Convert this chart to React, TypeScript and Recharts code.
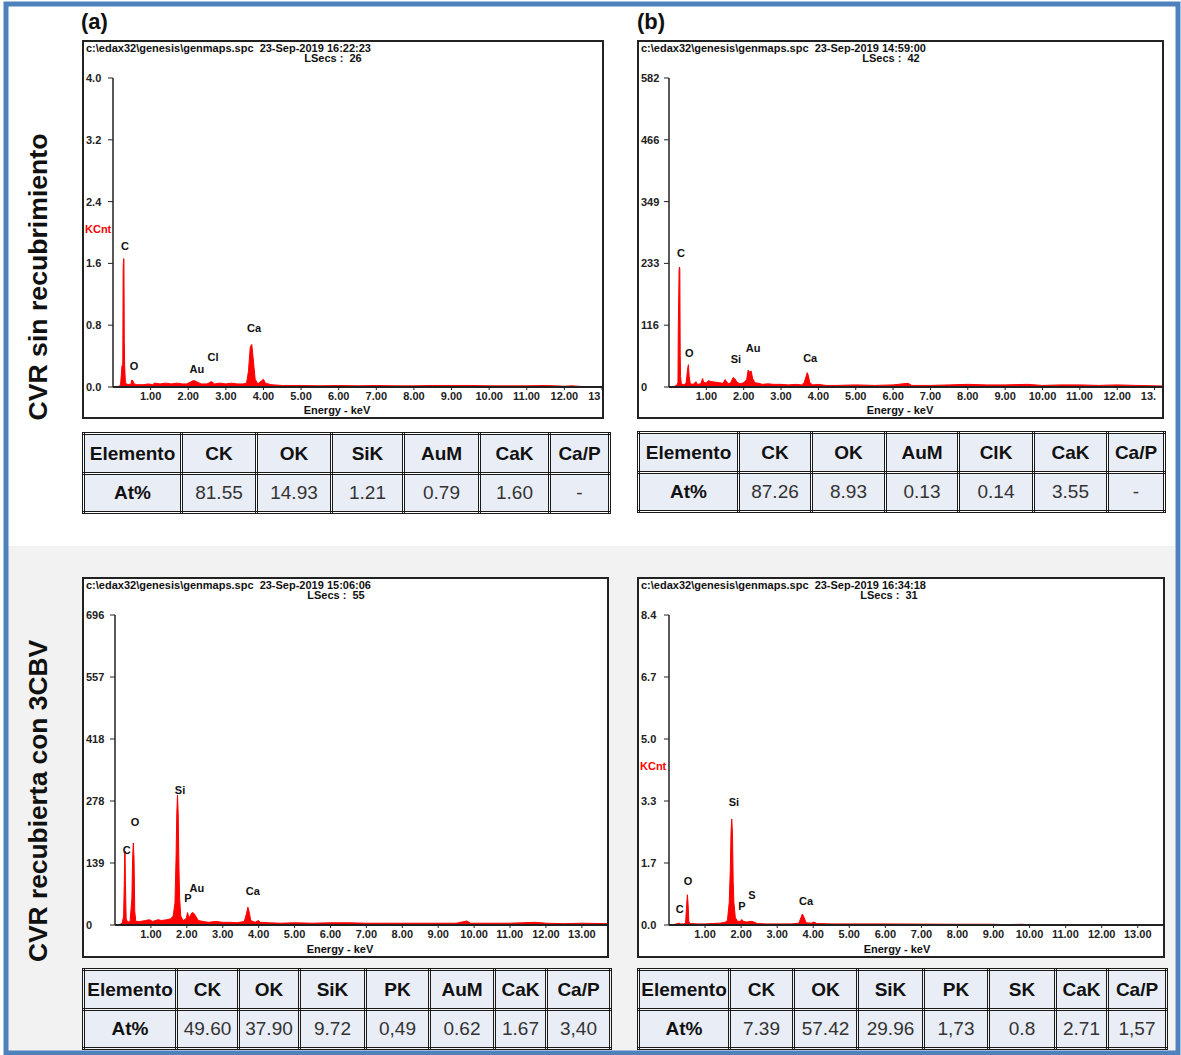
import { AreaChart, Area, XAxis, YAxis, ReferenceDot } from "recharts";

const FONT = '"Liberation Sans", Arial, Helvetica, sans-serif';
const RED = "#ff0000";

// EDS spectra: [energy keV, counts]
const spectrumA: [number, number][] = [
  [0.1, 0], [0.2, 0.02], [0.24, 0.28], [0.26, 0.28], [0.27, 1.52], [0.28, 1.66], [0.29, 1.66],
  [0.3, 0.6], [0.31, 0.28], [0.33, 0.05], [0.4, 0.03], [0.48, 0.04], [0.5, 0.09], [0.53, 0.08],
  [0.56, 0.04], [0.65, 0.03], [0.8, 0.03], [0.95, 0.04], [1.05, 0.03], [1.1, 0.05], [1.25, 0.04],
  [1.4, 0.05], [1.55, 0.04], [1.7, 0.05], [1.85, 0.04], [1.95, 0.04], [2.05, 0.06], [2.12, 0.08],
  [2.18, 0.08], [2.25, 0.06], [2.35, 0.04], [2.5, 0.04], [2.62, 0.07], [2.7, 0.04], [2.85, 0.05],
  [3.0, 0.04], [3.15, 0.05], [3.3, 0.04], [3.45, 0.04], [3.55, 0.05], [3.6, 0.2], [3.65, 0.52],
  [3.69, 0.55], [3.72, 0.4], [3.75, 0.25], [3.78, 0.1], [3.85, 0.04], [3.95, 0.08], [4.0, 0.1],
  [4.05, 0.05], [4.2, 0.03], [4.5, 0.02], [5.0, 0.02], [5.5, 0.015], [6.0, 0.02], [6.5, 0.015],
  [7.0, 0.02], [7.5, 0.015], [8.0, 0.015], [8.5, 0.02], [9.0, 0.02], [9.5, 0.02], [10.0, 0.015],
  [10.5, 0.015], [11.0, 0.015], [11.5, 0.02], [12.0, 0.01], [12.2, 0.015], [12.5, 0.005], [13.0, 0],
];

const spectrumB: [number, number][] = [
  [0.1, 0], [0.2, 3], [0.24, 8], [0.25, 115], [0.27, 220], [0.28, 226], [0.29, 222], [0.3, 60],
  [0.31, 20], [0.33, 6], [0.4, 4], [0.46, 8], [0.5, 35], [0.52, 42], [0.54, 20], [0.57, 6],
  [0.65, 5], [0.72, 10], [0.76, 5], [0.85, 6], [0.9, 16], [0.93, 8], [1.0, 8], [1.05, 12],
  [1.15, 10], [1.25, 9], [1.35, 8], [1.45, 7], [1.5, 14], [1.53, 12], [1.58, 6], [1.65, 8],
  [1.72, 18], [1.76, 16], [1.82, 9], [1.9, 6], [2.0, 8], [2.08, 14], [2.12, 32], [2.16, 28],
  [2.2, 30], [2.24, 16], [2.3, 8], [2.4, 7], [2.5, 5], [2.65, 6], [2.8, 5], [3.0, 5], [3.2, 4],
  [3.4, 5], [3.55, 4], [3.62, 8], [3.67, 20], [3.7, 27], [3.73, 22], [3.77, 8], [3.85, 4],
  [4.0, 5], [4.2, 3], [4.5, 3], [5.0, 4], [5.5, 3], [6.0, 4], [6.4, 7], [6.5, 3], [7.0, 3],
  [7.5, 4], [8.0, 5], [8.5, 4], [9.0, 4], [9.6, 5], [10.0, 3], [10.5, 4], [11.0, 4], [11.5, 3],
  [12.0, 4], [12.5, 3], [13.2, 2],
];

const spectrumC: [number, number][] = [
  [0.1, 0], [0.2, 4], [0.24, 20], [0.26, 100], [0.27, 160], [0.28, 166], [0.29, 100], [0.31, 15],
  [0.35, 6], [0.42, 8], [0.47, 60], [0.49, 150], [0.51, 184], [0.53, 150], [0.55, 30], [0.58, 8],
  [0.7, 8], [0.85, 10], [0.95, 12], [1.05, 8], [1.2, 12], [1.3, 10], [1.45, 12], [1.55, 14],
  [1.62, 20], [1.67, 50], [1.7, 150], [1.72, 250], [1.74, 292], [1.76, 250], [1.78, 130],
  [1.8, 60], [1.83, 20], [1.9, 10], [1.98, 14], [2.02, 28], [2.06, 15], [2.1, 22], [2.15, 28],
  [2.2, 26], [2.26, 18], [2.32, 10], [2.45, 8], [2.6, 6], [2.8, 8], [3.0, 6], [3.2, 6], [3.4, 5],
  [3.6, 8], [3.66, 25], [3.7, 40], [3.74, 28], [3.78, 10], [3.9, 6], [4.0, 10], [4.05, 6],
  [4.3, 5], [4.6, 4], [5.0, 5], [5.5, 4], [6.0, 5], [6.5, 5], [7.0, 4], [7.5, 4], [8.0, 4],
  [8.5, 4], [9.0, 4], [9.5, 4], [9.8, 9], [9.9, 4], [10.5, 4], [11.0, 4], [11.7, 6], [12.0, 4],
  [12.5, 3], [13.0, 4], [13.7, 3],
];

const spectrumD: [number, number][] = [
  [0.1, 0], [0.2, 0.03], [0.28, 0.05], [0.32, 0.03], [0.4, 0.03], [0.46, 0.05], [0.49, 0.55],
  [0.51, 0.82], [0.53, 0.55], [0.55, 0.1], [0.58, 0.04], [0.8, 0.03], [1.0, 0.03], [1.2, 0.04],
  [1.4, 0.05], [1.55, 0.07], [1.62, 0.12], [1.67, 0.6], [1.7, 1.5], [1.72, 2.5], [1.74, 2.87],
  [1.76, 2.5], [1.78, 1.2], [1.8, 0.6], [1.84, 0.2], [1.9, 0.1], [1.98, 0.1], [2.02, 0.15],
  [2.06, 0.1], [2.15, 0.08], [2.3, 0.1], [2.35, 0.08], [2.45, 0.04], [2.7, 0.03], [3.0, 0.03],
  [3.4, 0.03], [3.6, 0.05], [3.66, 0.2], [3.7, 0.3], [3.74, 0.22], [3.8, 0.06], [3.95, 0.05],
  [4.02, 0.08], [4.1, 0.04], [4.5, 0.03], [5.0, 0.03], [6.0, 0.03], [7.0, 0.025], [8.0, 0.02],
  [9.0, 0.02], [9.3, 0.01], [9.8, 0.02], [10.0, 0], [13.7, 0],
];

// peak labels: [element, energy, height where label sits]
const peaksA: [string, number, number][] = [
  ["C", 0.32, 1.83], ["O", 0.56, 0.27], ["Au", 2.23, 0.23], ["Cl", 2.66, 0.39], ["Ca", 3.75, 0.76],
];
const peaksB: [string, number, number][] = [
  ["C", 0.32, 252], ["O", 0.54, 64], ["Si", 1.79, 53], ["Au", 2.25, 73], ["Ca", 3.78, 55],
];
const peaksC: [string, number, number][] = [
  ["C", 0.33, 168], ["O", 0.56, 231], ["Si", 1.81, 303], ["P", 2.03, 61], ["Au", 2.28, 83], ["Ca", 3.84, 76],
];
const peaksD: [string, number, number][] = [
  ["C", 0.3, 0.43], ["O", 0.53, 1.19], ["Si", 1.8, 3.33], ["P", 2.02, 0.51], ["S", 2.3, 0.81], ["Ca", 3.8, 0.65],
];

const yTicksA = [0, 0.8, 1.6, 2.4, 3.2, 4.0];
const yLabelsA = ["0.0", "0.8", "1.6", "2.4", "3.2", "4.0"];
const yTicksB = [0, 116.4, 232.8, 349.2, 465.6, 582];
const yLabelsB = ["0", "116", "233", "349", "466", "582"];
const yTicksC = [0, 139.2, 278.4, 417.6, 556.8, 696];
const yLabelsC = ["0", "139", "278", "418", "557", "696"];
const yTicksD = [0, 1.68, 3.36, 5.04, 6.72, 8.4];
const yLabelsD = ["0.0", "1.7", "3.3", "5.0", "6.7", "8.4"];

const xTicks = [1, 2, 3, 4, 5, 6, 7, 8, 9, 10, 11, 12, 13];
const xLabels = ["1.00", "2.00", "3.00", "4.00", "5.00", "6.00", "7.00", "8.00", "9.00", "10.00", "11.00", "12.00", "13.00"];

const tableHeadA = ["Elemento", "CK", "OK", "SiK", "AuM", "CaK", "Ca/P"];
const tableRowA = ["At%", "81.55", "14.93", "1.21", "0.79", "1.60", "-"];
const tableHeadB = ["Elemento", "CK", "OK", "AuM", "ClK", "CaK", "Ca/P"];
const tableRowB = ["At%", "87.26", "8.93", "0.13", "0.14", "3.55", "-"];
const tableHeadC = ["Elemento", "CK", "OK", "SiK", "PK", "AuM", "CaK", "Ca/P"];
const tableRowC = ["At%", "49.60", "37.90", "9.72", "0,49", "0.62", "1.67", "3,40"];
const tableHeadD = ["Elemento", "CK", "OK", "SiK", "PK", "SK", "CaK", "Ca/P"];
const tableRowD = ["At%", "7.39", "57.42", "29.96", "1,73", "0.8", "2.71", "1,57"];

type Box = { x: number; y: number; w: number; h: number };

const FS = 11;
const charW = (ch: string) => (ch === "." ? 0.278 : 0.556) * FS;
const textW = (s: string) => s.split("").reduce((a, ch) => a + charW(ch), 0);

function YTick(props: any) {
  const { y, payload, ticks, labels } = props;
  const i = ticks.findIndex((t: number) => Math.abs(t - payload.value) < 1e-6);
  return (
    <text x={2} y={y} dy={4} fontSize={FS} fontWeight={700} fill="#222" fontFamily={FONT} textAnchor="start">
      {labels[i] ?? ""}
    </text>
  );
}

// x tick: the label that runs into the right border is cut like in the instrument print-out
function XTick(props: any) {
  const { x, y, payload, maxX } = props;
  let label = xLabels[xTicks.indexOf(payload.value)] ?? "";
  const start = x - textW(label) / 2;
  while (label.length > 1 && start + textW(label) > maxX) label = label.slice(0, -1);
  return (
    <text x={start} y={y} dy={7} fontSize={FS} fontWeight={700} fill="#222" fontFamily={FONT} textAnchor="start">
      {label}
    </text>
  );
}

function Spectrum(props: {
  box: Box;
  axisX: number;
  top: number;
  axisY: number;
  xMax: number;
  yTicks: number[];
  yLabels: string[];
  spectrum: [number, number][];
  peaks: [string, number, number][];
  file: string;
  lsecs: string;
  lsecsX: number;
  energyX: number;
  kcnt?: boolean;
}) {
  const { box, axisX, top, axisY, xMax, yTicks, yLabels, spectrum, peaks } = props;
  const iw = box.w - 4;
  const ih = box.h - 4;
  const yw = axisX - (box.x + 2);
  const mt = top - (box.y + 2);
  const xh = box.y + box.h - 2 - axisY;
  const data = spectrum.map(([e, c]) => ({ e, c }));
  const yMax = yTicks[yTicks.length - 1];
  const txt = { position: "absolute" as const, fontSize: FS, fontWeight: 700, lineHeight: "10px", whiteSpace: "pre" as const, color: "#111" };
  return (
    <div
      style={{
        position: "absolute", left: box.x, top: box.y, width: iw, height: ih,
        border: "2px solid #222", background: "#fff", overflow: "hidden",
      }}
    >
      <AreaChart width={iw} height={ih} data={data} margin={{ top: mt, right: 0, bottom: 0, left: 0 }}>
        <XAxis
          dataKey="e"
          type="number"
          domain={[0, xMax]}
          ticks={xTicks.filter((t) => t <= xMax)}
          interval={0}
          allowDataOverflow
          height={xh}
          tickSize={3}
          tickMargin={3}
          tickLine={{ stroke: "#222" }}
          axisLine={{ stroke: "#222", strokeWidth: 2 }}
          tick={(p: any) => <XTick {...p} maxX={iw - 1} />}
        />
        <YAxis
          type="number"
          domain={[0, yMax]}
          ticks={yTicks}
          interval={0}
          allowDataOverflow
          width={yw}
          tickSize={5}
          tickLine={{ stroke: "#222" }}
          axisLine={{ stroke: "#222", strokeWidth: 1.5 }}
          tick={(p: any) => <YTick {...p} ticks={yTicks} labels={yLabels} />}
        />
        <Area
          dataKey="c"
          type="linear"
          stroke={RED}
          strokeWidth={1}
          fill={RED}
          fillOpacity={1}
          dot={false}
          activeDot={false}
          isAnimationActive={false}
        />
        {peaks.map(([name, e, v]) => (
          <ReferenceDot
            key={name}
            x={e}
            y={v}
            r={0}
            fill="none"
            stroke="none"
            ifOverflow="visible"
            label={{ value: name, position: "center", fontSize: FS, fontWeight: 700, fill: "#111", fontFamily: FONT }}
          />
        ))}
      </AreaChart>
      <div style={{ ...txt, left: 2, top: 1 }}>{props.file}</div>
      <div style={{ ...txt, left: props.lsecsX, top: 11, transform: "translateX(-50%)" }}>{props.lsecs}</div>
      <div style={{ ...txt, left: props.energyX, top: ih - 12, transform: "translateX(-50%)" }}>Energy - keV</div>
      {props.kcnt ? <div style={{ ...txt, left: 1, top: 182, color: RED }}>KCnt</div> : null}
    </div>
  );
}

function EdsTable(props: { x: number; y: number; cols: number[]; head: string[]; row: string[] }) {
  const cell = {
    border: "3px double #1a1a1a",
    background: "#e9edf6",
    textAlign: "center" as const,
    padding: 0,
    fontSize: 19,
    color: "#111",
    overflow: "hidden",
    whiteSpace: "nowrap" as const,
  };
  const w = props.cols.reduce((a, b) => a + b, 0);
  return (
    <table
      style={{
        position: "absolute", left: props.x, top: props.y, width: w, borderCollapse: "collapse",
        tableLayout: "fixed", fontFamily: FONT,
      }}
    >
      <colgroup>
        {props.cols.map((c, i) => (
          <col key={i} style={{ width: c }} />
        ))}
      </colgroup>
      <tbody>
        <tr style={{ height: 40 }}>
          {props.head.map((h, i) => (
            <td key={i} style={{ ...cell, fontWeight: 700 }}>{h}</td>
          ))}
        </tr>
        <tr style={{ height: 39 }}>
          {props.row.map((h, i) => (
            <td key={i} style={{ ...cell, fontWeight: i === 0 ? 700 : 400, color: i === 0 ? "#111" : "#333" }}>{h}</td>
          ))}
        </tr>
      </tbody>
    </table>
  );
}

export default function App() {
  const panelLabel = { position: "absolute" as const, fontSize: 22, fontWeight: 700, lineHeight: "22px", color: "#111" };
  return (
    <div
      style={{
        position: "absolute", left: 0, top: 0, width: 1181, height: 1055, background: "#fff",
        fontFamily: FONT, overflow: "hidden",
      }}
    >
      <svg width={1181} height={1055} style={{ position: "absolute", left: 0, top: 0 }}>
        <rect x={8} y={546} width={1167} height={505} fill="#f2f2f2" />
        <rect x={6} y={4} width={1172} height={1049} fill="none" stroke="#4f81bd" strokeWidth={5} />
        <text
          x={38}
          y={277}
          transform="rotate(-90 38 277)"
          textAnchor="middle"
          dominantBaseline="central"
          fontSize={25}
          fontWeight={700}
          fontFamily={FONT}
          fill="#111"
          textLength={287}
          lengthAdjust="spacingAndGlyphs"
        >
          CVR sin recubrimiento
        </text>
        <text
          x={38}
          y={801}
          transform="rotate(-90 38 801)"
          textAnchor="middle"
          dominantBaseline="central"
          fontSize={25}
          fontWeight={700}
          fontFamily={FONT}
          fill="#111"
          textLength={322}
          lengthAdjust="spacingAndGlyphs"
        >
          CVR recubierta con 3CBV
        </text>
      </svg>

      <div style={{ ...panelLabel, left: 81, top: 11 }}>(a)</div>
      <div style={{ ...panelLabel, left: 637, top: 11 }}>(b)</div>

      <Spectrum
        box={{ x: 82, y: 40, w: 522, h: 379 }}
        axisX={113}
        top={78}
        axisY={387}
        xMax={13}
        yTicks={yTicksA}
        yLabels={yLabelsA}
        spectrum={spectrumA}
        peaks={peaksA}
        file={"c:\\edax32\\genesis\\genmaps.spc  23-Sep-2019 16:22:23"}
        lsecs={"LSecs :  26"}
        lsecsX={249}
        energyX={253}
        kcnt
      />
      <Spectrum
        box={{ x: 637, y: 40, w: 527, h: 379 }}
        axisX={669}
        top={78}
        axisY={387}
        xMax={13.2}
        yTicks={yTicksB}
        yLabels={yLabelsB}
        spectrum={spectrumB}
        peaks={peaksB}
        file={"c:\\edax32\\genesis\\genmaps.spc  23-Sep-2019 14:59:00"}
        lsecs={"LSecs :  42"}
        lsecsX={252}
        energyX={261}
      />
      <Spectrum
        box={{ x: 82, y: 577, w: 527, h: 381 }}
        axisX={115}
        top={615}
        axisY={925}
        xMax={13.7}
        yTicks={yTicksC}
        yLabels={yLabelsC}
        spectrum={spectrumC}
        peaks={peaksC}
        file={"c:\\edax32\\genesis\\genmaps.spc  23-Sep-2019 15:06:06"}
        lsecs={"LSecs :  55"}
        lsecsX={252}
        energyX={256}
      />
      <Spectrum
        box={{ x: 637, y: 577, w: 528, h: 381 }}
        axisX={669}
        top={615}
        axisY={925}
        xMax={13.7}
        yTicks={yTicksD}
        yLabels={yLabelsD}
        spectrum={spectrumD}
        peaks={peaksD}
        file={"c:\\edax32\\genesis\\genmaps.spc  23-Sep-2019 16:34:18"}
        lsecs={"LSecs :  31"}
        lsecsX={250}
        energyX={258}
        kcnt
      />

      <EdsTable x={82} y={432} cols={[98, 75, 75, 72, 76, 70, 60]} head={tableHeadA} row={tableRowA} />
      <EdsTable x={637} y={431} cols={[100, 73, 74, 73, 75, 74, 57]} head={tableHeadB} row={tableRowB} />
      <EdsTable x={82} y={968} cols={[93, 62, 61, 66, 64, 65, 52, 64]} head={tableHeadC} row={tableRowC} />
      <EdsTable x={637} y={968} cols={[91, 64, 64, 66, 65, 67, 52, 59]} head={tableHeadD} row={tableRowD} />
    </div>
  );
}
